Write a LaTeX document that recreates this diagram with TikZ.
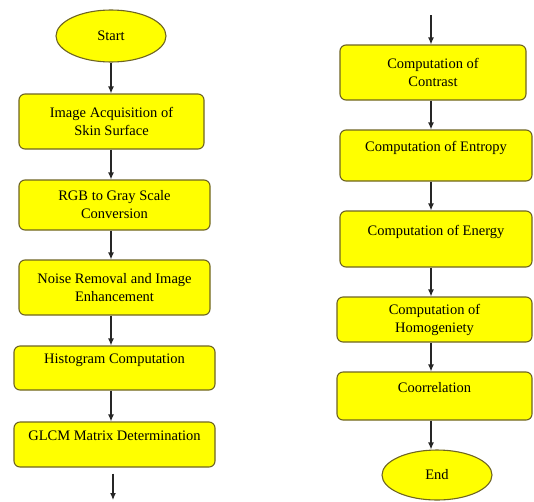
\documentclass[tikz,border=0pt]{standalone}
\usepackage{fontspec}
\setmainfont{Liberation Serif}
\usetikzlibrary{arrows.meta,shapes.geometric}
\definecolor{boxfill}{RGB}{255,255,0}
\definecolor{boxline}{RGB}{110,100,35}
\tikzstyle{process} = [draw=boxline,fill=boxfill,line width=1.1pt,rounded corners=6pt,align=center,inner sep=0pt,font=\rmfamily\fontsize{14.5}{18}\selectfont]
\tikzstyle{terminal} = [ellipse,draw=boxline,fill=boxfill,line width=1.1pt,inner sep=0pt,minimum width=110pt,font=\rmfamily\fontsize{14.5}{18}\selectfont]
\tikzstyle{flow} = [->,line width=1.2pt,draw=black!85]

\begin{document}
\begin{tikzpicture}[>={Latex[length=7pt,width=6pt]},x=1pt,y=1pt]
\useasboundingbox (0,0) rectangle (534,-501);
%%% Left column
\node[terminal,minimum height=52pt] at (111,-36) (start) {Start};
\node[process,minimum width=185pt,minimum height=55pt] at (111.5,-121.5) (acq) {Image Acquisition of\\Skin Surface};
\node[process,minimum width=191pt,minimum height=50pt] at (114.5,-205) (gray) {RGB to Gray Scale\\Conversion};
\node[process,minimum width=191pt,minimum height=55pt] at (114.5,-287.5) (noise) {Noise Removal and Image\\Enhancement};
\node[process,minimum width=201pt,minimum height=44pt] at (114.5,-368) (hist) {Histogram Computation\\ \mbox{}};
\node[process,minimum width=201pt,minimum height=45pt] at (114.5,-444.5) (glcm) {GLCM Matrix Determination\\ \mbox{}};
\coordinate (lx) at (111,0);
\coordinate (out) at (113,-500);
% Left arrows
\foreach \a/\b in {start/acq,acq/gray,gray/noise,noise/hist,hist/glcm}
    \draw[flow] (lx |- \a.south) -- (lx |- \b.north);
\draw[flow] ([yshift=-6]glcm.south -| out) -- (out);

%%% Right column
\coordinate (in) at (431,-15);
\node[process,minimum width=186pt,minimum height=55pt] at (433,-72.5) (contrast) {Computation of\\Contrast};
\node[process,minimum width=192pt,minimum height=51pt] at (436,-155.5) (entropy) {Computation of Entropy\\ \mbox{}};
\node[process,minimum width=192pt,minimum height=56pt] at (436,-239) (energy) {Computation of Energy\\ \mbox{}};
\node[process,minimum width=195pt,minimum height=45pt] at (434.5,-319.5) (homog) {Computation of\\Homogeniety};
\node[process,minimum width=195pt,minimum height=48pt] at (434.5,-396) (corr) {Coorrelation\\ \mbox{}};
\node[terminal,minimum height=50pt] at (437,-475) (finish) {End};
% Right arrows
\draw[flow] (in) -- (in |- contrast.north);
\foreach \a/\b in {contrast/entropy,entropy/energy,energy/homog,homog/corr,corr/finish}
    \draw[flow] (in |- \a.south) -- (in |- \b.north);
\end{tikzpicture}
\end{document}
